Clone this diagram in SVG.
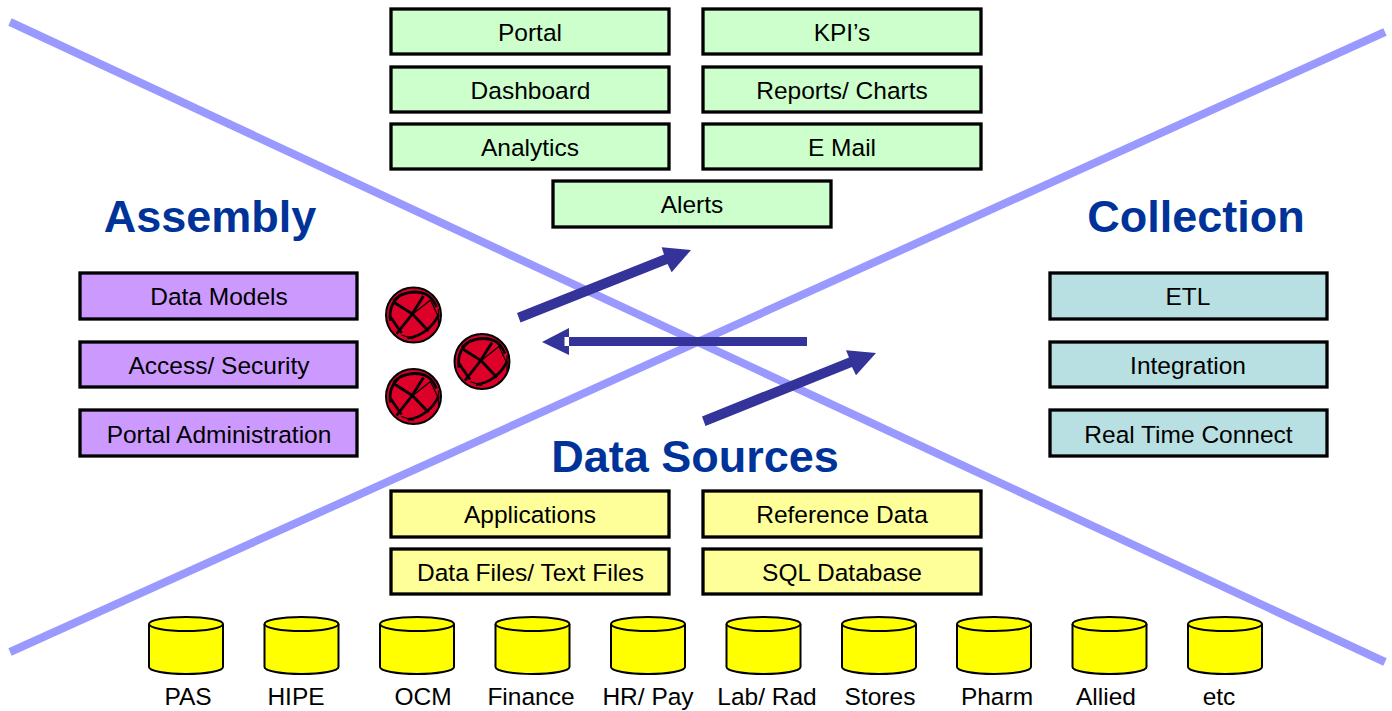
<svg xmlns="http://www.w3.org/2000/svg" width="1392" height="711" viewBox="0 0 1392 711">
<style>
text{font-family:"Liberation Sans",Arial,sans-serif;fill:#000;text-anchor:middle}
.l{font-size:24.500px}
.h{font-size:45px;font-weight:bold;fill:#003399}
.b{stroke:#000;stroke-width:3.300}
.g{fill:#ccffcc}.p{fill:#cc99ff}.t{fill:#b8e0e2}.y{fill:#ffff99}
.x{stroke:#9999ff;stroke-width:8;fill:none}
.s{fill:#333399}
.c{fill:#ffff00;stroke:#000;stroke-width:2}
</style>
<defs>
<g id="globe">
<circle r="27.500" fill="#dd0029" stroke="#000" stroke-width="2"/>
<path d="M-23 6C-25-6-20-16-11-21M-20-14C-12-23 2-25 12-21C18-18 21-13 23-8M-20-13L-1-1L15 16M-17 19L-2 0L10-19M-6 23C8 22 20 11 25 0M-23 2L-12 18" fill="none" stroke="#000" stroke-width="2.800"/>
<path d="M-2 0L17-15M25-6V10M17-15L25 2M-12 20L0 24" fill="none" stroke="#000" stroke-width="1.200"/>
</g>
<g id="cyl">
<path class="c" d="M-37 7V50C-37 54-20 57 0 57S37 54 37 50V7"/>
<ellipse class="c" cy="7" rx="37" ry="7"/>
</g>
</defs>
<g id="connectors">
<line class="x" x1="10" y1="22" x2="1385" y2="662"/>
<line class="x" x1="10" y1="652" x2="1385" y2="32"/>
<g id="arrow-up-left">
<path class="s" d="M517 313L520.500 322.500L667.500 264L671.700 272.300L691 250L661.700 247.300L664 254.500Z"/>
</g>
<g id="arrow-back">
<path class="s" d="M569 337H807V346H569Z"/>
<path class="s" d="M542 342L569 328V355Z"/>
<rect x="564.500" y="337" width="4.500" height="9" fill="#fff"/>
</g>
<g id="arrow-up-right">
<path class="s" d="M702 416.500L705.500 426L852 367L856 375.300L876 353L846 350.300L849 357.500Z"/>
</g>
</g>
<g id="portal"><rect class="b g" x="391" y="9" width="278" height="45"/><text class="l" x="530" y="41">Portal</text></g>
<g id="kpis"><rect class="b g" x="703" y="9" width="278" height="45"/><text class="l" x="842" y="41">KPI’s</text></g>
<g id="dashboard"><rect class="b g" x="391" y="67" width="278" height="45"/><text class="l" x="530.500" y="99">Dashboard</text></g>
<g id="reports"><rect class="b g" x="703" y="67" width="278" height="45"/><text class="l" x="842" y="99">Reports/ Charts</text></g>
<g id="analytics"><rect class="b g" x="391" y="124" width="278" height="45"/><text class="l" x="530" y="156">Analytics</text></g>
<g id="email"><rect class="b g" x="703" y="124" width="278" height="45"/><text class="l" x="842" y="156">E Mail</text></g>
<g id="alerts"><rect class="b g" x="553" y="181" width="278" height="46"/><text class="l" x="692" y="213">Alerts</text></g>
<g id="assembly-title"><text class="h" x="210" y="232">Assembly</text></g>
<g id="collection-title"><text class="h" x="1196" y="232">Collection</text></g>
<g id="data-sources-title"><text class="h" x="695" y="472">Data Sources</text></g>
<g id="data-models"><rect class="b p" x="80" y="273" width="277" height="46"/><text class="l" x="219" y="305">Data Models</text></g>
<g id="access"><rect class="b p" x="80" y="342" width="277" height="45"/><text class="l" x="219" y="374">Access/ Security</text></g>
<g id="portal-admin"><rect class="b p" x="80" y="410" width="277" height="46"/><text class="l" x="219" y="443">Portal Administration</text></g>
<g id="etl"><rect class="b t" x="1050" y="273" width="277" height="46"/><text class="l" x="1188" y="305">ETL</text></g>
<g id="integration"><rect class="b t" x="1050" y="342" width="277" height="45"/><text class="l" x="1188" y="374">Integration</text></g>
<g id="rtc"><rect class="b t" x="1050" y="410" width="277" height="46"/><text class="l" x="1188.500" y="443">Real Time Connect</text></g>
<g id="globes">
<use href="#globe" x="413.500" y="315"/>
<use href="#globe" x="482" y="361.500"/>
<use href="#globe" x="413.500" y="396.500"/>
</g>
<g id="applications"><rect class="b y" x="391" y="491" width="278" height="46"/><text class="l" x="530" y="523">Applications</text></g>
<g id="reference"><rect class="b y" x="703" y="491" width="278" height="46"/><text class="l" x="842" y="523">Reference Data</text></g>
<g id="files"><rect class="b y" x="391" y="549" width="278" height="45"/><text class="l" x="530.500" y="581">Data Files/ Text Files</text></g>
<g id="sql"><rect class="b y" x="703" y="549" width="278" height="45"/><text class="l" x="842" y="581">SQL Database</text></g>
<g id="pas"><use href="#cyl" x="186" y="617"/><text class="l" x="188" y="705">PAS</text></g>
<g id="hipe"><use href="#cyl" x="301.500" y="617"/><text class="l" x="296" y="705">HIPE</text></g>
<g id="ocm"><use href="#cyl" x="417" y="617"/><text class="l" x="423" y="705">OCM</text></g>
<g id="finance"><use href="#cyl" x="532.500" y="617"/><text class="l" x="531" y="705">Finance</text></g>
<g id="hr"><use href="#cyl" x="648" y="617"/><text class="l" x="648" y="705">HR/ Pay</text></g>
<g id="lab"><use href="#cyl" x="763.500" y="617"/><text class="l" x="767" y="705">Lab/ Rad</text></g>
<g id="stores"><use href="#cyl" x="879" y="617"/><text class="l" x="880" y="705">Stores</text></g>
<g id="pharm"><use href="#cyl" x="994" y="617"/><text class="l" x="997" y="705">Pharm</text></g>
<g id="allied"><use href="#cyl" x="1109.500" y="617"/><text class="l" x="1106" y="705">Allied</text></g>
<g id="etc"><use href="#cyl" x="1225" y="617"/><text class="l" x="1219" y="705">etc</text></g>
</svg>
